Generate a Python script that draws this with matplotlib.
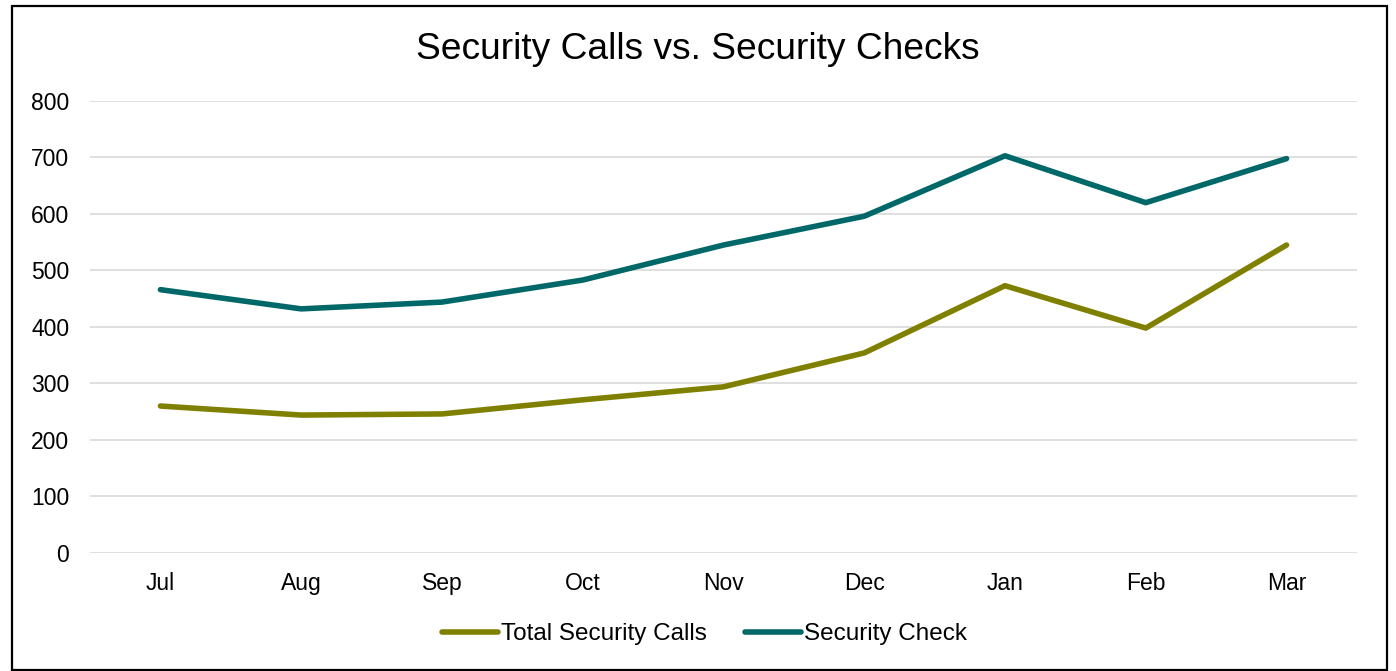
import matplotlib
matplotlib.use('Agg')
import matplotlib.pyplot as plt
from matplotlib.patches import Rectangle

plt.rcParams['font.family'] = ['Liberation Sans', 'DejaVu Sans']

# data
months = ['Jul', 'Aug', 'Sep', 'Oct', 'Nov', 'Dec', 'Jan', 'Feb', 'Mar']
total_calls = [260, 244, 246, 271, 294, 354, 473, 398, 545]
security_check = [466, 432, 444, 483, 545, 596, 703, 620, 698]

fig = plt.figure(figsize=(13.96, 6.71), dpi=100)
ax = fig.add_axes([0.0645, 0.176, 0.9075, 0.6735])

x = range(len(months))
ax.plot(x, total_calls, color='#808000', lw=4, label='Total Security Calls',
        solid_capstyle='round', solid_joinstyle='round')
ax.plot(x, security_check, color='#006868', lw=4, label='Security Check',
        solid_capstyle='round', solid_joinstyle='round')

ax.set_xlim(-0.5, len(months) - 0.5)
ax.set_ylim(0, 800)
ax.set_yticks(range(0, 801, 100))
ax.set_xticks(list(x))
ax.set_xticklabels(months)
ax.tick_params(length=0, labelsize=16.5, pad=14)
ax.tick_params(axis='y', pad=15)
ax.grid(axis='y', color='#d9d9d9', lw=1.2)
ax.set_axisbelow(True)
for s in ['top', 'right', 'left', 'bottom']:
    ax.spines[s].set_visible(False)

fig.suptitle('Security Calls vs. Security Checks', fontsize=26.7, y=0.926, va='center')

ax.legend(loc='center', bbox_to_anchor=(0.485, -0.18), ncol=2, frameon=False,
          fontsize=17.5, handlelength=2.3, handletextpad=0.1, columnspacing=1.6)

# outer frame
fig.patches.append(Rectangle((12 / 1396, 0.002), 1375 / 1396, 0.989,
                             transform=fig.transFigure, fill=False,
                             edgecolor='black', lw=1.6))

fig.savefig('out.png', dpi=100)
